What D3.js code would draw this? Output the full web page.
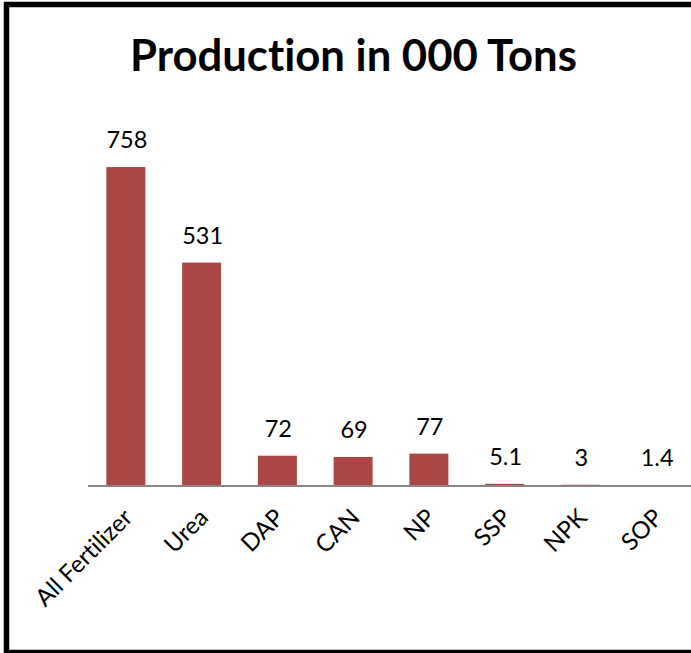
<!DOCTYPE html>
<html>
<head>
<meta charset="utf-8">
<script src="https://cdn.jsdelivr.net/npm/d3@7"></script>
<style>
  html, body { margin: 0; padding: 0; background: #fff; }
  svg { display: block; }
  text { font-family: Lato, "Open Sans", sans-serif; fill: #000; font-variant-ligatures: none; }
</style>
</head>
<body>
<svg id="chart" width="691" height="653"></svg>
<script>
// Fertilizer production, thousand tons
const categories = ["All Fertilizer", "Urea", "DAP", "CAN", "NP", "SSP", "NPK", "SOP"];
const values = [758, 531, 72, 69, 77, 5.1, 3, 1.4];
const valueLabels = ["758", "531", "72", "69", "77", "5.1", "3", "1.4"];
const titleText = "Production in 000 Tons";

const W = 691, H = 653;
const svg = d3.select("#chart");

// outer frame
svg.append("rect")
  .attr("x", 6.5).attr("y", 4.5)
  .attr("width", 720).attr("height", 648)
  .attr("fill", "#fff")
  .attr("stroke", "#000")
  .attr("stroke-width", 5.5);

const baseY = 486;
const x = d3.scaleBand()
  .domain(categories)
  .range([88, 694])
  .paddingInner(0.485)
  .paddingOuter(0.2425);

const y = d3.scaleLinear()
  .domain([0, 800])
  .range([baseY, baseY - 336.6]);

// title, fitted to its box width
const title = svg.append("text")
  .attr("x", 353.5).attr("y", 71)
  .attr("text-anchor", "middle")
  .attr("font-weight", 700)
  .attr("font-size", 40)
  .text(titleText);
const tw = title.node().getComputedTextLength();
title.attr("font-size", 40 * 447 / tw);

// bars
svg.append("g").selectAll("rect")
  .data(categories)
  .join("rect")
  .attr("x", d => x(d))
  .attr("y", (d, i) => y(values[i]))
  .attr("width", x.bandwidth())
  .attr("height", (d, i) => baseY - y(values[i]))
  .attr("fill", "#AA4643");

// category axis
const axis = svg.append("g")
  .attr("transform", `translate(0,${baseY})`)
  .call(d3.axisBottom(x).tickSize(0).tickFormat(""));
axis.select(".domain")
  .attr("stroke", "#868686")
  .attr("stroke-width", 2)
  .attr("d", "M88,0H700");

// rotated category labels
svg.append("g").selectAll("text")
  .data(categories)
  .join("text")
  .attr("text-anchor", "end")
  .attr("font-size", 24)
  .attr("transform", d => `translate(${x(d) + x.bandwidth() / 2 + 8},${baseY + 33}) rotate(-45)`)
  .text(d => d);

// value labels
svg.append("g").selectAll("text")
  .data(categories)
  .join("text")
  .attr("text-anchor", "middle")
  .attr("font-size", 23.5)
  .attr("x", d => x(d) + x.bandwidth() / 2 + 1)
  .attr("y", (d, i) => y(values[i]) - 19)
  .text((d, i) => valueLabels[i]);
</script>
</body>
</html>
